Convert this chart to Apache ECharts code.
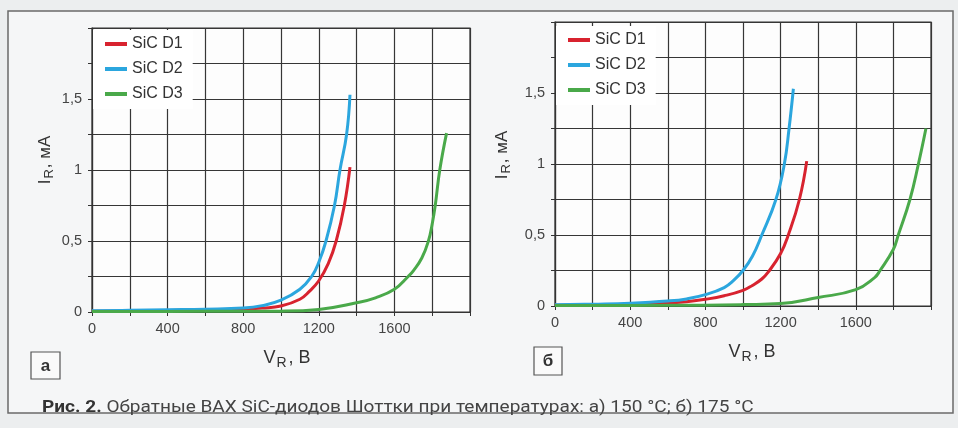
<!DOCTYPE html>
<html><head><meta charset="utf-8">
<script src="https://cdn.jsdelivr.net/npm/echarts@6/dist/echarts.min.js"></script>
<style>html,body{margin:0;padding:0;background:#eceeef;}#c{width:958px;height:428px;}</style>
</head><body><div id="c"></div>
<script>
// ---- data ----
const seriesNames = ['SiC D1', 'SiC D2', 'SiC D3'];
const xTickLabels = ['0', '400', '800', '1200', '1600'];
const yTickLabels = ['0', '0,5', '1', '1,5'];

// (a) 150 °C
const a_D1_V = [0, 200, 400, 600, 800, 900, 1000, 1100, 1150, 1200, 1250, 1292, 1335, 1365];
const a_D1_I = [0.005, 0.008, 0.011, 0.015, 0.02, 0.028, 0.042, 0.09, 0.145, 0.22, 0.34, 0.5, 0.75, 1.02];
const a_D2_V = [0, 200, 400, 600, 800, 900, 1000, 1100, 1162, 1200, 1238, 1283, 1312, 1347, 1365];
const a_D2_I = [0.008, 0.012, 0.016, 0.02, 0.028, 0.045, 0.083, 0.16, 0.25, 0.35, 0.5, 0.75, 1.0, 1.25, 1.53];
const a_D3_V = [0, 400, 800, 1000, 1200, 1400, 1500, 1600, 1673, 1700, 1745, 1780, 1800, 1816, 1840, 1876];
const a_D3_I = [0.003, 0.004, 0.005, 0.006, 0.018, 0.065, 0.1, 0.16, 0.25, 0.29, 0.38, 0.5, 0.62, 0.75, 1.0, 1.26];

// (б) 175 °C
const b_D1_V = [0, 200, 400, 600, 700, 800, 900, 1000, 1050, 1100, 1135, 1200, 1241, 1300, 1339];
const b_D1_I = [0.005, 0.009, 0.013, 0.02, 0.03, 0.047, 0.072, 0.11, 0.145, 0.19, 0.24, 0.37, 0.5, 0.75, 1.02];
const b_D2_V = [0, 200, 400, 600, 700, 800, 900, 950, 1000, 1050, 1100, 1175, 1220, 1245, 1268];
const b_D2_I = [0.008, 0.013, 0.02, 0.035, 0.05, 0.08, 0.13, 0.18, 0.25, 0.35, 0.5, 0.75, 1.0, 1.25, 1.53];
const b_D3_V = [0, 400, 800, 1000, 1200, 1400, 1600, 1700, 1729, 1800, 1826, 1888, 1933, 1973];
const b_D3_I = [0.003, 0.004, 0.006, 0.01, 0.017, 0.06, 0.115, 0.2, 0.25, 0.4, 0.5, 0.75, 1.0, 1.25];

const captionBold = 'Рис. 2.';
const captionText = ' Обратные ВАХ SiC-диодов Шоттки при температурах: а) 150 °С; б) 175 °С';

// ---- chart ----
const colors = ['#d8232f', '#2ba6de', '#4aa94a'];
const FONT = 'Liberation Sans, Arial, sans-serif';
const pairs = (v, i) => v.map((x, k) => [x, i[k]]);

function xAxis(gi, gap, shift) {
  return {
    type: 'value', gridIndex: gi, min: 0, max: 2000, interval: 200,
    name: '{a|V}{s|R}{a|, В}', nameLocation: 'middle', nameGap: gap,
    nameTextStyle: { padding: [0, 0, 0, shift], rich: {
      a: { fontSize: 18, color: '#333', fontFamily: FONT },
      s: { fontSize: 14, color: '#333', fontFamily: FONT, padding: [10, 2, 0, 1] } } },
    axisLine: { show: true, lineStyle: { color: '#333', width: 1.2 } },
    axisTick: { show: true, length: 4, lineStyle: { color: '#333' } },
    splitLine: { show: true, lineStyle: { color: '#363636', width: 1.2 } },
    axisLabel: { fontSize: 14.5, color: '#444', fontFamily: FONT, margin: 9,
      formatter: v => xTickLabels.includes(String(v)) ? String(v) : '' }
  };
}
function yAxis(gi, gap, shift) {
  return {
    type: 'value', gridIndex: gi, min: 0, max: 2, interval: 0.25,
    name: '{a|I}{s|R}{a|, мА}', nameLocation: 'middle', nameGap: gap, nameRotate: 90,
    nameTextStyle: { padding: [0, 0, 0, shift], rich: {
      a: { fontSize: 17, color: '#333', fontFamily: FONT },
      s: { fontSize: 13, color: '#333', fontFamily: FONT, padding: [9, 1, 0, 1] } } },
    axisLine: { show: true, lineStyle: { color: '#333', width: 1.2 } },
    axisTick: { show: true, length: 4, lineStyle: { color: '#333' } },
    splitLine: { show: true, lineStyle: { color: '#363636', width: 1.2 } },
    axisLabel: { fontSize: 14.5, color: '#444', fontFamily: FONT, margin: 10,
      formatter: v => { const s = String(v).replace('.', ','); return yTickLabels.includes(s) ? s : ''; } }
  };
}
function line(name, gi, data, ci) {
  return { name, type: 'line', xAxisIndex: gi, yAxisIndex: gi, data, smooth: 0.45,
    showSymbol: false, lineStyle: { width: 3, color: colors[ci] }, itemStyle: { color: colors[ci] },
    z: 3, animation: false };
}
function legend(left, top) {
  return { data: seriesNames, orient: 'vertical', left, top, backgroundColor: '#fff',
    padding: [5, 10, 6, 12], itemGap: 7, itemWidth: 22, itemHeight: 4, icon: 'rect',
    textStyle: { fontSize: 16, color: '#333', fontFamily: FONT, lineHeight: 18 } };
}

const chart = echarts.init(document.getElementById('c'), null, { renderer: 'canvas' });
chart.setOption({
  backgroundColor: '#eceeef',
  animation: false,
  graphic: [
    { type: 'rect', z: -10, shape: { x: 8, y: 11, width: 945, height: 402 },
      style: { fill: '#f5f6f7', stroke: '#6a6a6a', lineWidth: 1.5 } },
    { type: 'rect', shape: { x: 31, y: 352, width: 29, height: 27 },
      style: { fill: '#fafafa', stroke: '#555', lineWidth: 1.2 } },
    { type: 'text', x: 45.5, y: 366, style: { text: 'а', fontSize: 17, fontWeight: 'bold',
      fill: '#333', align: 'center', verticalAlign: 'middle', fontFamily: FONT } },
    { type: 'rect', shape: { x: 534, y: 347, width: 28, height: 28 },
      style: { fill: '#fafafa', stroke: '#555', lineWidth: 1.2 } },
    { type: 'text', x: 548, y: 361, style: { text: 'б', fontSize: 17, fontWeight: 'bold',
      fill: '#333', align: 'center', verticalAlign: 'middle', fontFamily: FONT } },
    { type: 'text', x: 42, y: 408, scaleX: 1.12, style: {
      text: '{b|' + captionBold + '}{r|' + captionText + '}', verticalAlign: 'middle',
      rich: { b: { fontSize: 17, fontWeight: 'bold', fill: '#333', fontFamily: 'Roboto' },
              r: { fontSize: 17, fill: '#444', fontFamily: 'Roboto' } } } }
  ],
  legend: [legend(93, 30), legend(556, 26)],
  grid: [
    { left: 92, top: 28, width: 378, height: 284, show: true, backgroundColor: '#fdfdfd', borderColor: '#333', borderWidth: 1.2 },
    { left: 555, top: 22, width: 376, height: 284, show: true, backgroundColor: '#fdfdfd', borderColor: '#333', borderWidth: 1.2 }
  ],
  xAxis: [xAxis(0, 34, 12), xAxis(1, 34, 18)],
  yAxis: [yAxis(0, 36, 20), yAxis(1, 42, 18)],
  series: [
    line('SiC D1', 0, pairs(a_D1_V, a_D1_I), 0),
    line('SiC D2', 0, pairs(a_D2_V, a_D2_I), 1),
    line('SiC D3', 0, pairs(a_D3_V, a_D3_I), 2),
    line('SiC D1', 1, pairs(b_D1_V, b_D1_I), 0),
    line('SiC D2', 1, pairs(b_D2_V, b_D2_I), 1),
    line('SiC D3', 1, pairs(b_D3_V, b_D3_I), 2)
  ]
});
</script></body></html>
